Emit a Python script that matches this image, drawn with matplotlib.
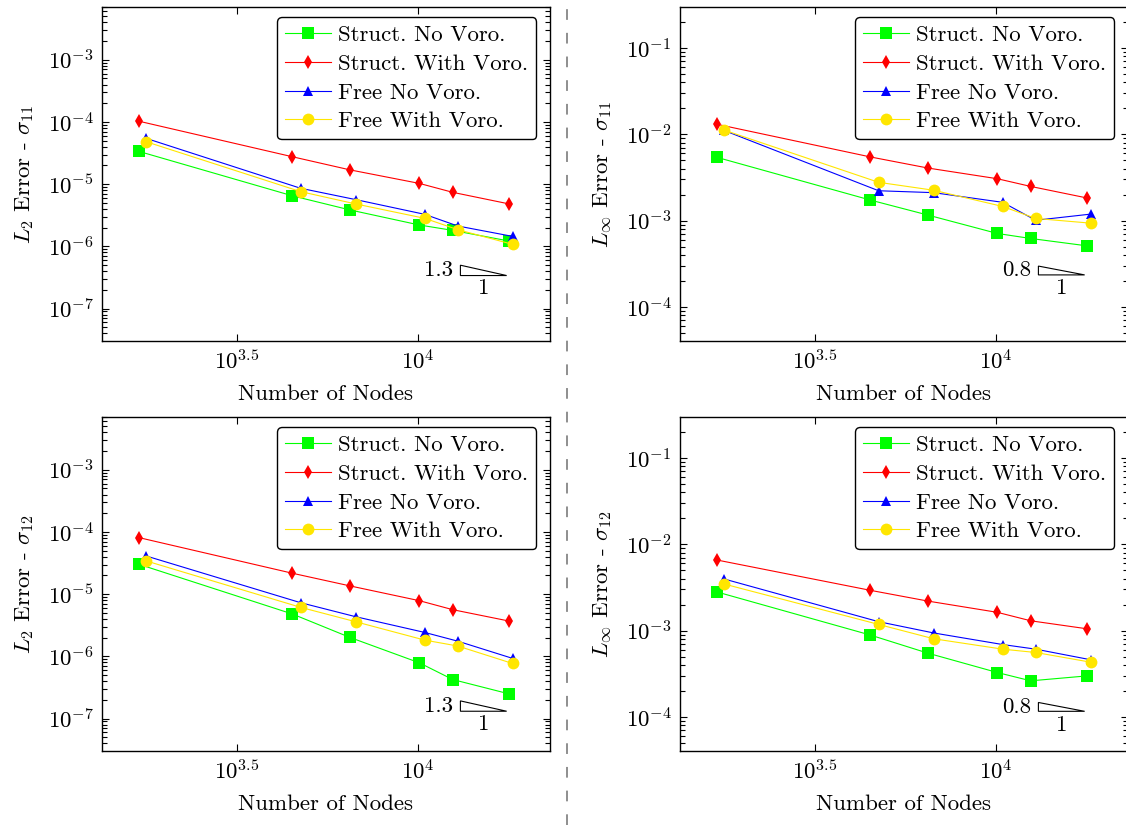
import matplotlib
matplotlib.use("Agg")
import matplotlib.pyplot as plt
from matplotlib.lines import Line2D
from matplotlib.patches import Polygon
from matplotlib.ticker import FixedLocator, LogLocator, NullLocator

FS = 16.5
plt.rcParams["font.family"] = "cmr10"
plt.rcParams["mathtext.fontset"] = "cm"
plt.rcParams["axes.formatter.use_mathtext"] = True
plt.rcParams["axes.unicode_minus"] = False
plt.rcParams["font.size"] = FS

# node counts for the structured and free point clouds
nodes_struct = [1690, 4500, 6490, 10100, 12500, 17900]
nodes_free = [1770, 4740, 6730, 10450, 12900, 18300]

series_names = ["Struct. No Voro.", "Struct. With Voro.", "Free No Voro.", "Free With Voro."]

# L2 error, sigma_11
l2_s11_struct_novoro = [3.37e-5, 6.5e-6, 3.86e-6, 2.21e-6, 1.81e-6, 1.22e-6]
l2_s11_struct_voro = [1.03e-4, 2.76e-5, 1.70e-5, 1.03e-5, 7.4e-6, 4.82e-6]
l2_s11_free_novoro = [5.46e-5, 8.6e-6, 5.66e-6, 3.28e-6, 2.13e-6, 1.45e-6]
l2_s11_free_voro = [4.82e-5, 7.6e-6, 4.82e-6, 2.83e-6, 1.86e-6, 1.08e-6]

# Linf error, sigma_11
linf_s11_struct_novoro = [5.42e-3, 1.73e-3, 1.16e-3, 7.1e-4, 6.21e-4, 5.1e-4]
linf_s11_struct_voro = [1.31e-2, 5.47e-3, 4.07e-3, 3.06e-3, 2.49e-3, 1.83e-3]
linf_s11_free_novoro = [1.11e-2, 2.22e-3, 2.11e-3, 1.63e-3, 1.01e-3, 1.19e-3]
linf_s11_free_voro = [1.12e-2, 2.78e-3, 2.25e-3, 1.46e-3, 1.06e-3, 9.35e-4]

# L2 error, sigma_12
l2_s12_struct_novoro = [3.03e-5, 4.80e-6, 2.02e-6, 7.9e-7, 4.25e-7, 2.50e-7]
l2_s12_struct_voro = [8.13e-5, 2.17e-5, 1.36e-5, 7.87e-6, 5.64e-6, 3.70e-6]
l2_s12_free_novoro = [4.12e-5, 7.3e-6, 4.35e-6, 2.43e-6, 1.76e-6, 9.3e-7]
l2_s12_free_voro = [3.43e-5, 6.15e-6, 3.61e-6, 1.83e-6, 1.47e-6, 7.7e-7]

# Linf error, sigma_12
linf_s12_struct_novoro = [2.81e-3, 8.88e-4, 5.48e-4, 3.27e-4, 2.62e-4, 2.99e-4]
linf_s12_struct_voro = [6.59e-3, 2.93e-3, 2.20e-3, 1.63e-3, 1.30e-3, 1.05e-3]
linf_s12_free_novoro = [3.97e-3, 1.27e-3, 9.4e-4, 6.9e-4, 6.1e-4, 4.6e-4]
linf_s12_free_voro = [3.47e-3, 1.18e-3, 8.05e-4, 6.1e-4, 5.58e-4, 4.31e-4]

# convergence rates shown by the slope triangles
rate_l2 = 1.3
rate_linf = 0.8

styles = [
    dict(color="#00ff00", marker="s", markersize=8.5),
    dict(color="#ff0000", marker="d", markersize=7.5),
    dict(color="#0000ff", marker="^", markersize=6.5),
    dict(color="#ffe600", marker="o", markersize=8.5),
]

fig = plt.figure(figsize=(11.26, 8.25), dpi=100)
W, H = 1126, 825


def make_axes(x0, y_top):
    return fig.add_axes([x0 / W, (H - y_top - 334) / H, 448 / W, 334 / H])


def draw_panel(ax, ys, ylabel, ylim, rate, tri_x, tri_y, tri_label):
    xs = [nodes_struct, nodes_struct, nodes_free, nodes_free]
    for x, y, name, st in zip(xs, ys, series_names, styles):
        ax.plot(x, y, label=name, linewidth=0.8, markeredgewidth=0, **st)
    ax.set_xscale("log")
    ax.set_yscale("log")
    ax.set_xlim(10 ** 3.126, 10 ** 4.366)
    ax.set_ylim(*ylim)
    ax.xaxis.set_major_locator(FixedLocator([10 ** 3.5, 1e4]))
    ax.set_xticklabels(["$10^{3.5}$", "$10^{4}$"])
    ax.xaxis.set_minor_locator(NullLocator())
    ax.yaxis.set_major_locator(LogLocator(base=10, numticks=20))
    ax.yaxis.set_minor_locator(LogLocator(base=10, subs=range(2, 10), numticks=20))
    ax.tick_params(which="both", direction="in", top=True, right=True, width=0.8)
    ax.tick_params(which="major", length=5, labelsize=FS, pad=6)
    ax.tick_params(which="minor", length=3.5)
    for s in ax.spines.values():
        s.set_linewidth(1.0)
    ax.set_xlabel("Number of Nodes", fontsize=FS, labelpad=8)
    ax.set_ylabel(ylabel, fontsize=FS, labelpad=8)

    leg = ax.legend(loc="upper right", bbox_to_anchor=(0.969, 0.970), borderaxespad=0,
                    fancybox=True, framealpha=1, edgecolor="black", fontsize=FS,
                    handlelength=2.0, handletextpad=0.3, labelspacing=0.38,
                    borderpad=0.35, numpoints=1)
    leg.get_frame().set_linewidth(1.0)

    # slope triangle drawn in log space
    dx = 0.128
    x0, x1 = 10 ** tri_x, 10 ** (tri_x + dx)
    yb, yt = 10 ** tri_y, 10 ** (tri_y + rate * dx)
    ax.add_patch(Polygon([(x0, yt), (x0, yb), (x1, yb)], closed=True,
                         fill=False, edgecolor="black", linewidth=0.8))
    ax.text(x0 * 0.955, 10 ** (tri_y + rate * dx / 2), tri_label,
            ha="right", va="center", fontsize=FS)
    ax.text(10 ** (tri_x + dx / 2), yb * 0.9, "1", ha="center", va="top", fontsize=FS)


ylim_l2 = (10 ** -7.52, 10 ** -2.152)
ylim_linf = (10 ** -4.395, 10 ** -0.524)

ax1 = make_axes(102, 7)
draw_panel(ax1, [l2_s11_struct_novoro, l2_s11_struct_voro, l2_s11_free_novoro, l2_s11_free_voro],
           r"$L_2$ Error - $\sigma_{11}$", ylim_l2, rate_l2, 4.118, -6.468, "1.3")

ax2 = make_axes(680, 7)
draw_panel(ax2, [linf_s11_struct_novoro, linf_s11_struct_voro, linf_s11_free_novoro, linf_s11_free_voro],
           r"$L_\infty$ Error - $\sigma_{11}$", ylim_linf, rate_linf, 4.118, -3.629, "0.8")

ax3 = make_axes(102, 417)
draw_panel(ax3, [l2_s12_struct_novoro, l2_s12_struct_voro, l2_s12_free_novoro, l2_s12_free_voro],
           r"$L_2$ Error - $\sigma_{12}$", ylim_l2, rate_l2, 4.118, -6.881, "1.3")

ax4 = make_axes(680, 417)
draw_panel(ax4, [linf_s12_struct_novoro, linf_s12_struct_voro, linf_s12_free_novoro, linf_s12_free_voro],
           r"$L_\infty$ Error - $\sigma_{12}$", ylim_linf, rate_linf, 4.118, -3.935, "0.8")

# dashed separator between the two columns
fig.add_artist(Line2D([567 / W, 567 / W], [0, 1], transform=fig.transFigure,
                      color="#707070", linewidth=1.1, dashes=(7, 8.5)))

fig.savefig("out.png", dpi=100)
plt.close(fig)
